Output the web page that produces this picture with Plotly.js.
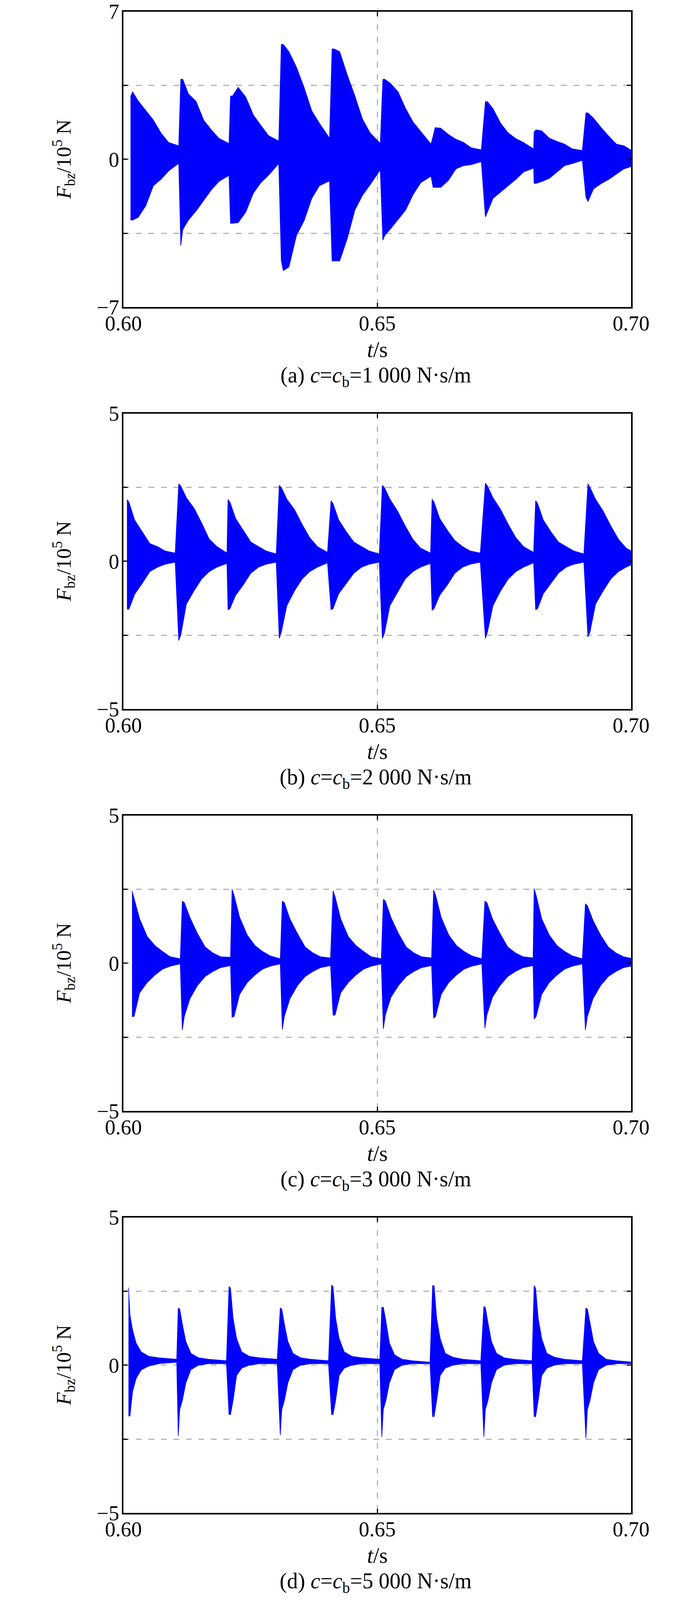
<!DOCTYPE html>
<html>
<head>
<meta charset="utf-8">
<script src="https://cdn.plot.ly/plotly-3.0.1.min.js"></script>
<style>
  html, body {margin: 0; padding: 0; background: #fff; overflow: hidden;}
  #chart {width: 1772px;}
</style>
</head>
<body>
<div id="chart"></div>
<script>

// ---------------------------- DATA --------------------------------
// Envelope of F_bz (10^5 N): one row per wheel impact,
// values at the time offsets (s) after each impact start.

// (a) c = cb = 1000
var startA = [0.6014, 0.6113, 0.6211, 0.6311, 0.6411, 0.6511, 0.6610, 0.6713, 0.6809, 0.6911]
var offA   = [0, 0.0004, 0.0015, 0.003, 0.0045, 0.006, 0.0075, 0.0095]
var upA = [
    [2.96, 3.20, 2.77, 2.31, 1.86, 1.25, 0.80, 0.64],
    [3.79, 3.79, 3.10, 2.75, 1.86, 1.40, 1.00, 0.75],
    [3.00, 3.00, 3.41, 2.95, 2.10, 1.60, 1.12, 0.87],
    [5.44, 5.44, 5.10, 4.36, 3.40, 2.30, 1.71, 1.00],
    [5.23, 5.23, 5.10, 4.00, 3.00, 1.90, 1.25, 0.75],
    [3.79, 3.79, 3.60, 3.20, 2.40, 1.75, 1.30, 0.72],
    [1.10, 1.50, 1.48, 1.18, 0.95, 0.80, 0.55, 0.45],
    [2.73, 2.73, 2.40, 1.71, 1.25, 0.98, 0.80, 0.49],
    [1.30, 1.40, 1.35, 1.00, 0.85, 0.72, 0.50, 0.42],
    [2.20, 2.20, 1.95, 1.50, 1.10, 0.72, 0.64, 0.35]
]
var loA = [
    [-2.88, -2.88, -2.75, -2.20, -1.25, -0.95, -0.55, -0.19],
    [-4.09, -3.33, -2.88, -2.45, -1.95, -1.45, -1.05, -0.76],
    [-3.03, -3.03, -3.00, -2.50, -1.60, -1.10, -0.75, -0.20],
    [-4.81, -5.27, -5.10, -3.60, -2.90, -1.85, -1.25, -1.02],
    [-4.81, -4.81, -4.81, -3.75, -2.40, -1.70, -1.20, -0.50],
    [-3.83, -3.60, -3.30, -2.85, -2.40, -1.65, -1.10, -0.80],
    [-1.33, -1.33, -1.33, -1.00, -0.45, -0.30, -0.25, -0.11],
    [-2.73, -2.50, -1.85, -1.55, -1.25, -0.95, -0.60, -0.42],
    [-1.14, -1.14, -1.05, -0.90, -0.60, -0.30, -0.20, -0.05],
    [-1.78, -2.00, -1.40, -1.15, -0.95, -0.70, -0.45, -0.30]
]

// (b) c = cb = 2000
var startB = [0.6007, 0.6109, 0.6206, 0.6307, 0.6409, 0.6510, 0.6608, 0.6713, 0.6812, 0.6915]
var offB   = [0, 0.0004, 0.0015, 0.003, 0.0045, 0.006, 0.0075, 0.0095]
var upB = [
    [2.09, 2.00, 1.40, 1.00, 0.60, 0.50, 0.35, 0.28],
    [2.62, 2.55, 2.15, 1.80, 1.30, 0.75, 0.50, 0.28],
    [2.09, 2.00, 1.45, 1.05, 0.65, 0.50, 0.35, 0.25],
    [2.57, 2.50, 2.10, 1.75, 1.25, 0.80, 0.50, 0.30],
    [2.05, 1.95, 1.40, 1.00, 0.65, 0.50, 0.35, 0.25],
    [2.57, 2.50, 2.10, 1.70, 1.20, 0.75, 0.45, 0.28],
    [2.10, 2.00, 1.45, 1.05, 0.70, 0.50, 0.35, 0.28],
    [2.64, 2.55, 2.15, 1.75, 1.25, 0.80, 0.50, 0.30],
    [2.05, 1.95, 1.40, 1.00, 0.65, 0.50, 0.35, 0.25],
    [2.62, 2.50, 2.10, 1.70, 1.20, 0.75, 0.45, 0.25]
]
var loB = [
    [-1.62, -1.62, -1.12, -0.75, -0.35, -0.20, -0.10, -0.03],
    [-2.68, -2.50, -1.45, -1.00, -0.60, -0.35, -0.20, -0.07],
    [-1.64, -1.60, -1.15, -0.80, -0.40, -0.20, -0.10, -0.03],
    [-2.61, -2.40, -1.50, -1.00, -0.60, -0.35, -0.20, -0.05],
    [-1.64, -1.60, -1.10, -0.75, -0.40, -0.20, -0.10, -0.03],
    [-2.61, -2.45, -1.50, -1.05, -0.60, -0.35, -0.20, -0.07],
    [-1.66, -1.60, -1.15, -0.80, -0.40, -0.20, -0.10, -0.03],
    [-2.61, -2.40, -1.50, -1.00, -0.60, -0.35, -0.20, -0.05],
    [-1.64, -1.60, -1.10, -0.75, -0.40, -0.20, -0.10, -0.03],
    [-2.56, -2.40, -1.45, -1.00, -0.60, -0.35, -0.20, -0.05]
]

// (c) c = cb = 3000
var startC = [0.6017, 0.6116, 0.6214, 0.6313, 0.6413, 0.6512, 0.6611, 0.6712, 0.6809, 0.6910]
var offC   = [0, 0.0004, 0.0015, 0.003, 0.0045, 0.006, 0.0075, 0.0095]
var upC = [
    [2.45, 2.20, 1.50, 0.90, 0.60, 0.40, 0.22, 0.15],
    [2.10, 2.05, 1.55, 1.00, 0.55, 0.35, 0.22, 0.20],
    [2.50, 2.30, 1.55, 0.95, 0.60, 0.40, 0.25, 0.15],
    [2.10, 2.05, 1.50, 1.00, 0.55, 0.35, 0.22, 0.18],
    [2.45, 2.25, 1.50, 0.90, 0.60, 0.40, 0.22, 0.15],
    [2.16, 2.10, 1.55, 1.00, 0.55, 0.35, 0.22, 0.18],
    [2.48, 2.30, 1.55, 0.95, 0.60, 0.40, 0.25, 0.15],
    [2.10, 2.05, 1.50, 1.00, 0.55, 0.35, 0.22, 0.18],
    [2.53, 2.30, 1.50, 0.95, 0.60, 0.40, 0.25, 0.15],
    [2.01, 1.95, 1.45, 0.95, 0.55, 0.35, 0.22, 0.15]
]
var loC = [
    [-1.80, -1.80, -1.00, -0.65, -0.40, -0.20, -0.10, -0.02],
    [-2.26, -1.80, -1.20, -0.75, -0.45, -0.28, -0.15, -0.08],
    [-1.83, -1.80, -1.05, -0.65, -0.40, -0.20, -0.10, -0.02],
    [-2.24, -1.80, -1.20, -0.75, -0.45, -0.28, -0.15, -0.08],
    [-1.76, -1.75, -1.00, -0.65, -0.40, -0.20, -0.10, -0.02],
    [-2.22, -1.75, -1.15, -0.75, -0.45, -0.28, -0.15, -0.08],
    [-1.86, -1.80, -1.05, -0.65, -0.40, -0.20, -0.10, -0.02],
    [-2.20, -1.75, -1.15, -0.75, -0.45, -0.28, -0.15, -0.08],
    [-1.89, -1.80, -1.05, -0.65, -0.40, -0.20, -0.10, -0.02],
    [-2.26, -1.80, -1.20, -0.75, -0.45, -0.28, -0.15, -0.08]
]

// (d) c = cb = 5000
var startD = [0.6010, 0.6108, 0.6208, 0.6309, 0.6410, 0.6509, 0.6609, 0.6710, 0.6809, 0.6911]
var offD   = [0, 0.0003, 0.0008, 0.0015, 0.0025, 0.004, 0.006, 0.0095]
var upD = [
    [2.62, 1.70, 1.20, 0.75, 0.45, 0.30, 0.25, 0.20],
    [1.93, 1.90, 1.40, 0.80, 0.40, 0.25, 0.20, 0.15],
    [2.66, 2.60, 1.60, 0.90, 0.45, 0.30, 0.25, 0.20],
    [1.93, 1.90, 1.40, 0.80, 0.40, 0.25, 0.20, 0.15],
    [2.71, 2.65, 1.60, 0.90, 0.45, 0.30, 0.25, 0.20],
    [1.96, 1.96, 1.50, 0.75, 0.35, 0.20, 0.15, 0.10],
    [2.69, 2.69, 1.60, 0.90, 0.40, 0.27, 0.20, 0.15],
    [1.99, 1.95, 1.45, 0.80, 0.40, 0.25, 0.20, 0.15],
    [2.69, 2.60, 1.60, 0.90, 0.40, 0.27, 0.20, 0.15],
    [1.93, 1.90, 1.45, 0.80, 0.40, 0.20, 0.15, 0.10]
]
var loD = [
    [-1.72, -1.72, -0.90, -0.45, -0.16, -0.03, 0.05, 0.10],
    [-2.40, -1.50, -1.20, -0.60, -0.15, 0.00, 0.05, 0.05],
    [-1.67, -1.67, -1.20, -0.35, -0.10, 0.00, 0.05, 0.05],
    [-2.37, -1.50, -1.20, -0.60, -0.15, 0.00, 0.05, 0.05],
    [-1.67, -1.67, -1.20, -0.35, -0.10, 0.00, 0.05, 0.05],
    [-2.43, -1.50, -1.20, -0.60, -0.15, 0.00, 0.05, 0.05],
    [-1.74, -1.74, -1.20, -0.35, -0.10, 0.00, 0.05, 0.05],
    [-2.42, -1.50, -1.20, -0.60, -0.15, 0.00, 0.05, 0.05],
    [-1.74, -1.74, -1.20, -0.35, -0.10, 0.00, 0.05, 0.05],
    [-2.47, -1.50, -1.20, -0.60, -0.15, 0.00, 0.05, 0.05]
]

// Axis ticks and captions
var xTickVals = [0.60, 0.65, 0.70]
var xTickText = ['0.60', '0.65', '0.70']
var yLimits   = [7, 5, 5, 5]
var captions  = ['1 000', '2 000', '3 000', '5 000']
var letters   = ['a', 'b', 'c', 'd']


// ---------------------------- LAYOUT -------------------------------
// Page is designed at 1772 x 5131; the window may be shorter, so the whole
// figure is squeezed vertically to fit what is visible.
var W = 1772
var H = 5131
var VH = (window.innerHeight > 0) ? Math.min(window.innerHeight, H) : H
var s = VH / H              // vertical squeeze
var fs = 0.5 * (s + 0.9)    // font size factor

var plotLeft = 316, plotRight = 1616
var plotTops = [37, 1326, 2615, 3904]
var plotH = 948
var serif = 'Liberation Serif, Times New Roman, serif'

function py(px) {return 1 - px/H}   // design pixel -> paper fraction
function sz(v) {return Math.round(v * fs)}


// Envelope trace pair (lower, then upper filled to it)
function envelope(starts, offs, lo, up, n) {
    var x = [], yl = [], yu = []
    for (var i=0;i<starts.length;i++) {
        for (var j=0;j<offs.length;j++) {
            x.push(starts[i] + offs[j])
            yl.push(lo[i][j])
            yu.push(up[i][j])
        }
    }
    var ax = n == 1 ? '' : n
    var lower = {
        x: x, y: yl, type: 'scatter', mode: 'lines',
        xaxis: 'x'+ax, yaxis: 'y'+ax,
        line: {color: '#0000ff', width: 1.5},
        hoverinfo: 'skip', showlegend: false,
    }
    var upper = {
        x: x, y: yu, type: 'scatter', mode: 'lines',
        xaxis: 'x'+ax, yaxis: 'y'+ax,
        line: {color: '#0000ff', width: 1.5},
        fill: 'tonexty', fillcolor: '#0000ff',
        hoverinfo: 'skip', showlegend: false,
    }
    return [lower, upper]
}

var data = []
data = data.concat(envelope(startA, offA, loA, upA, 1))
data = data.concat(envelope(startB, offB, loB, upB, 2))
data = data.concat(envelope(startC, offC, loC, upC, 3))
data = data.concat(envelope(startD, offD, loD, upD, 4))


var layout = {
    width: W,
    height: VH,
    margin: {l: 0, r: 0, t: 0, b: 0},
    paper_bgcolor: '#ffffff',
    plot_bgcolor: '#ffffff',
    showlegend: false,
    annotations: [],
}

var gridStyle = {
    showgrid: true,
    gridcolor: '#b4b4b4',
    gridwidth: 3,
    griddash: '15px,17px',
}

var axisCommon = Object.assign({
    ticks: 'inside',
    ticklen: 11,
    tickwidth: 3,
    tickcolor: '#000',
    showline: true,
    linewidth: 4,
    linecolor: '#000',
    mirror: 'ticks',
    zeroline: false,
    fixedrange: true,
    ticklabeloverflow: 'allow',
    tickfont: {family: serif, size: sz(64), color: '#000'},
}, gridStyle)

function addPanel(k) {
    var n = k+1
    var ax = n == 1 ? '' : n
    var pTop = plotTops[k]
    var pBottom = pTop + plotH
    var L = yLimits[k]

    layout['xaxis'+ax] = Object.assign({}, axisCommon, {
        domain: [plotLeft/W, plotRight/W],
        anchor: 'y'+ax,
        range: [0.6, 0.7],
        tickmode: 'array',
        tickvals: xTickVals,
        ticktext: xTickText,
        ticklabelstandoff: -9,
    })
    layout['yaxis'+ax] = Object.assign({}, axisCommon, {
        domain: [py(pBottom), py(pTop)],
        anchor: 'x'+ax,
        range: [-L, L],
        tickmode: 'array',
        tickvals: [-L, 0, L],
        ticktext: ['\u2212'+L, '0', String(L)],
        ticklabelstandoff: -4,
        minor: Object.assign({
            tickmode: 'linear', tick0: 0, dtick: L/2,
            ticks: 'inside', ticklen: 11, tickwidth: 3, tickcolor: '#000',
        }, gridStyle),
    })

    // y title
    var sub = k == 0 ? 'b<i>z</i>' : 'bz'
    layout.annotations.push({
        xref: 'paper', yref: 'paper',
        x: 163/W, y: py(pTop + plotH/2),
        xanchor: 'center', yanchor: 'middle',
        textangle: -90, showarrow: false,
        text: '<i>F</i><sub>'+sub+'</sub>/10<sup>5</sup> N',
        font: {family: serif, size: sz(62), color: '#000'},
    })
    // x title
    layout.annotations.push({
        xref: 'paper', yref: 'paper',
        x: 966/W, y: py(pBottom + 136),
        xanchor: 'center', yanchor: 'middle',
        showarrow: false,
        text: '<i>t</i>/s',
        font: {family: serif, size: sz(66), color: '#000'},
    })
    // caption
    layout.annotations.push({
        xref: 'paper', yref: 'paper',
        x: 962/W, y: py(pBottom + 223),
        xanchor: 'center', yanchor: 'middle',
        showarrow: false,
        text: '('+letters[k]+') <i>c</i>=<i>c</i><sub>b</sub>='+captions[k]+' N\u00b7s/m',
        font: {family: serif, size: sz(66), color: '#000'},
    })
}

for (var k=0;k<4;k++) {addPanel(k)}

Plotly.newPlot('chart', data, layout, {displayModeBar: false, staticPlot: true})

</script>
</body>
</html>
